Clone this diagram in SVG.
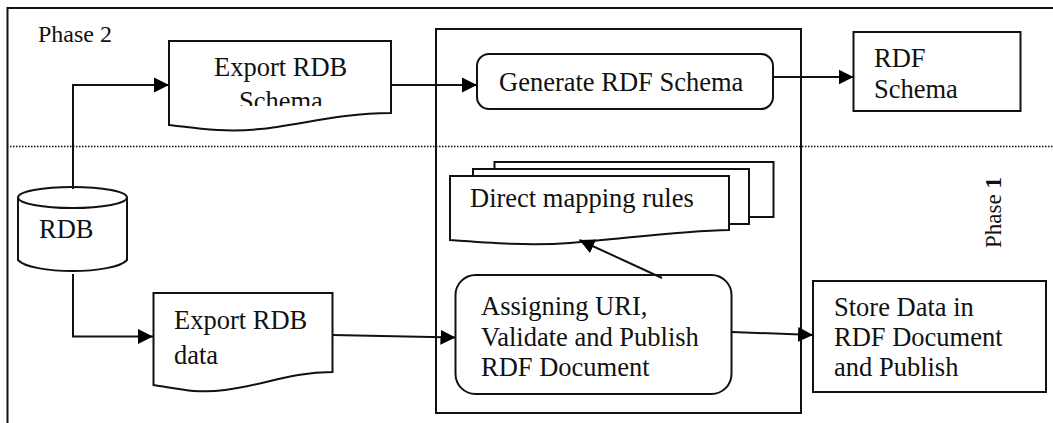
<svg xmlns="http://www.w3.org/2000/svg" width="1053" height="423" viewBox="0 0 1053 423">
<style>
.s{fill:#fff;stroke:#111;stroke-width:2}
.t{font-family:"Liberation Serif","Times New Roman",serif;font-size:26.500px;fill:#111}
.p{font-size:24px}
.c{fill:none;stroke:#111;stroke-width:2;marker-end:url(#a)}
.n{fill:none;stroke:#111;stroke-width:2}
</style>
<defs>
<marker id="a" markerUnits="userSpaceOnUse" markerWidth="16" markerHeight="16" refX="15" refY="8" orient="auto"><path d="M0 0.500L15 8L0 15.500Z" fill="#000"/></marker>
<clipPath id="clip"><rect x="170" y="42" width="220" height="64"/></clipPath>
</defs>
<rect width="1053" height="423" fill="#fff"/>
<g id="frame">
<path class="n" d="M7.500 423V8H1053"/>
<path d="M10 146.500H1053" fill="none" stroke="#111" stroke-width="1.300" stroke-dasharray="1.500 1.500"/>
<text class="t p" x="38" y="42">Phase 2</text>
<text class="t p" style="font-size:23px" transform="translate(1001 248) rotate(-90)">Phase <tspan font-weight="bold">1</tspan></text>
</g>
<g id="process-box"><rect x="436" y="29" width="365" height="384" fill="none" stroke="#111" stroke-width="2"/></g>
<g id="rdb">
<path class="s" d="M18 198V260C24 267 48 271 72.500 271C97 271 121 267 127 260V198"/>
<ellipse class="s" cx="72.500" cy="197.500" rx="54.500" ry="10.500"/>
<text class="t" x="39" y="238">RDB</text>
</g>
<g id="export-schema">
<path class="s" d="M169 41H391V113C340 113 300 125 260 129C225 133 195 128 169 125Z"/>
<text class="t" x="214" y="76">Export RDB</text>
<text class="t" x="239" y="110" clip-path="url(#clip)">Schema</text>
</g>
<g id="export-data">
<path class="s" d="M153.500 293H332.500V372C290 372 265 385 225 390C195 394 175 388 153.500 385Z"/>
<text class="t" x="174" y="329">Export RDB</text>
<text class="t" x="174" y="364">data</text>
</g>
<g id="generate-schema">
<rect class="s" x="477" y="54" width="296" height="55" rx="12"/>
<text class="t" x="499" y="91">Generate RDF Schema</text>
</g>
<g id="rdf-schema">
<rect class="s" x="853.500" y="32" width="167" height="79"/>
<text class="t" x="874" y="67">RDF</text>
<text class="t" x="874" y="98">Schema</text>
</g>
<g id="mapping-rules">
<rect class="s" x="494.500" y="162" width="279" height="55"/>
<rect class="s" x="473" y="169" width="276" height="55"/>
<path class="s" d="M450 176H729V230C680 231 630 238 570 243C530 246 490 243 450 240Z"/>
<text class="t" x="470" y="207">Direct mapping rules</text>
</g>
<g id="assign-uri">
<rect class="s" x="455.500" y="275" width="276" height="119" rx="20"/>
<text class="t" x="481" y="315">Assigning URI,</text>
<text class="t" x="481" y="346">Validate and Publish</text>
<text class="t" x="481" y="376">RDF Document</text>
</g>
<g id="store-data">
<rect class="s" x="813" y="281" width="233" height="111"/>
<text class="t" x="834" y="316">Store Data in</text>
<text class="t" x="834" y="346">RDF Document</text>
<text class="t" x="834" y="376">and Publish</text>
</g>
<g id="connectors">
<path class="c" d="M73 189V85H169"/>
<path class="c" d="M73 274V336.500H153"/>
<path class="c" d="M391 85H477"/>
<path class="c" d="M773 77H853.500"/>
<path class="c" d="M332.500 335L455.500 337.500"/>
<path class="c" d="M662 278L579.500 240"/>
<path class="c" d="M731.500 332L813 335"/>
</g>
</svg>
